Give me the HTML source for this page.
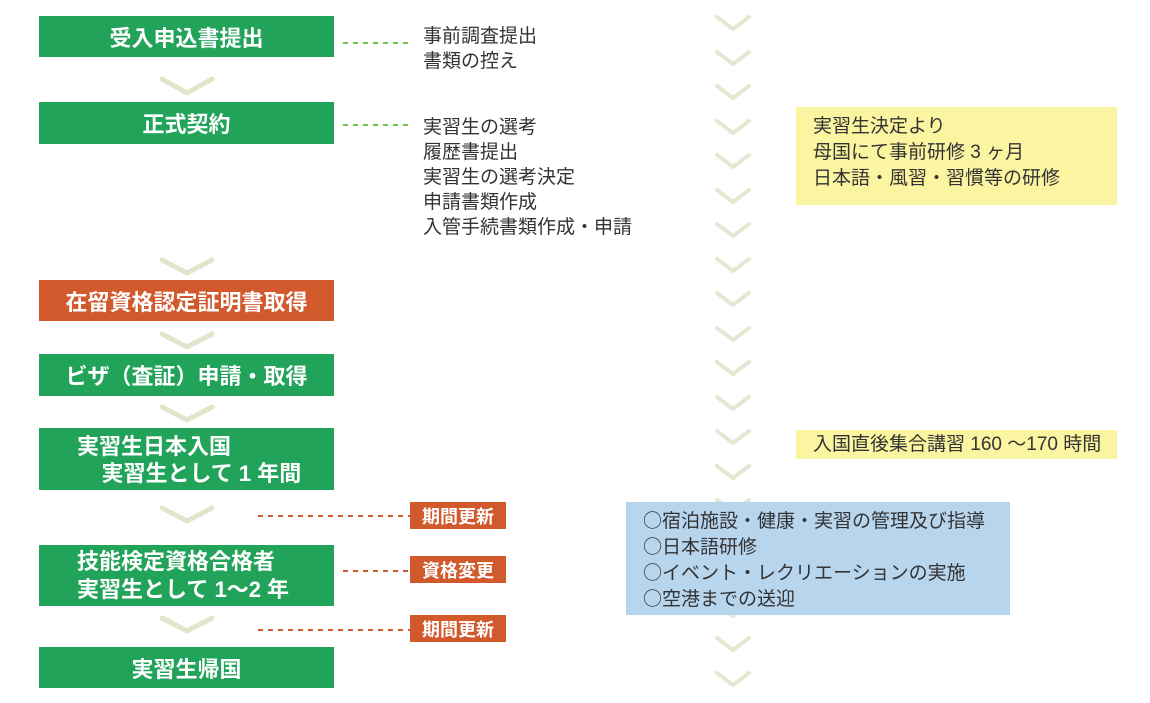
<!DOCTYPE html>
<html><head><meta charset="utf-8"><style>
body{margin:0;width:1150px;height:703px;background:#fff;position:relative;overflow:hidden;font-family:"Liberation Sans","Noto Sans CJK JP",sans-serif}
.b{position:absolute;left:39px;width:295px;background:#22a35a;color:#fff;font-weight:bold;font-size:22px;box-sizing:border-box;white-space:nowrap}
.c{display:flex;align-items:center;justify-content:center}
.o{background:#d2592c}
.s{position:absolute;left:410px;width:96px;height:27px;background:#d2592c;color:#fff;font-weight:bold;font-size:18px;display:flex;align-items:center;justify-content:center}
.t{position:absolute;color:#333;font-size:19px;line-height:25px;white-space:nowrap}
.y{position:absolute;background:#fbf4a0;color:#333;font-size:19px;white-space:nowrap}
.k{font-family:"Noto Sans CJK JP",sans-serif;line-height:0}
svg{position:absolute;left:0;top:0}
</style></head><body>
<svg width="1150" height="703">
<g fill="none" stroke="#dfe6cc" stroke-width="5" stroke-linecap="round" stroke-linejoin="round">
<polyline points="162,79 187,93 212,79"/>
<polyline points="162,260 187,273 212,260"/>
<polyline points="162,334 187,347 212,334"/>
<polyline points="162,407 187,420 212,407"/>
<polyline points="162,508 187,521 212,508"/>
<polyline points="162,618 187,631 212,618"/>
</g>
<g fill="none" stroke="#e2e8d2" stroke-width="4" stroke-linecap="round" stroke-linejoin="round">
<polyline points="717,17 733,29 749,17"/><polyline points="717,52 733,64 749,52"/><polyline points="717,86 733,98 749,86"/><polyline points="717,121 733,133 749,121"/><polyline points="717,155 733,167 749,155"/><polyline points="717,190 733,202 749,190"/><polyline points="717,224 733,236 749,224"/><polyline points="717,259 733,271 749,259"/><polyline points="717,293 733,305 749,293"/><polyline points="717,328 733,340 749,328"/><polyline points="717,362 733,374 749,362"/><polyline points="717,397 733,409 749,397"/><polyline points="717,431 733,443 749,431"/><polyline points="717,466 733,478 749,466"/><polyline points="717,500 733,512 749,500"/><polyline points="717,604 733,616 749,604"/><polyline points="717,638 733,650 749,638"/><polyline points="717,673 733,685 749,673"/>
</g>
<g stroke="#6cc24a" stroke-width="2" stroke-dasharray="5,5"><line x1="343" y1="43" x2="410" y2="43"/><line x1="343" y1="125" x2="410" y2="125"/></g>
<g stroke="#d2592c" stroke-width="2" stroke-dasharray="5,5"><line x1="258" y1="516" x2="410" y2="516"/><line x1="343" y1="571" x2="410" y2="571"/><line x1="258" y1="630" x2="410" y2="630"/></g>
</svg>
<div class="b c" style="top:16px;height:41px">受入申込書提出</div>
<div class="b c" style="top:102px;height:42px">正式契約</div>
<div class="b c o" style="top:280px;height:41px">在留資格認定証明書取得</div>
<div class="b c" style="top:354px;height:42px">ビザ（査証）申請・取得</div>
<div class="b" style="top:428px;height:62px;padding:5px 0 0 38px;line-height:27px">実習生日本入国<br>&nbsp;&nbsp;&nbsp;&nbsp;実習生として 1 年間</div>
<div class="b" style="top:545px;height:61px;padding:3px 0 0 38px;line-height:28px">技能検定資格合格者<br>実習生として 1～2 年</div>
<div class="b c" style="top:647px;height:41px">実習生帰国</div>
<div class="s" style="top:502px">期間更新</div>
<div class="s" style="top:556px">資格変更</div>
<div class="s" style="top:615px">期間更新</div>
<div class="t" style="left:423px;top:24px">事前調査提出<br>書類の控え</div>
<div class="t" style="left:423px;top:115px">実習生の選考<br>履歴書提出<br>実習生の選考決定<br>申請書類作成<br>入管手続書類作成・申請</div>
<div class="y" style="left:796px;top:107px;width:321px;height:98px;padding:7px 0 0 17px;box-sizing:border-box;line-height:26px">実習生決定より<br>母国にて事前研修 3 ヶ月<br>日本語・風習・習慣等の研修</div>
<div class="y" style="left:796px;top:430px;width:321px;height:29px;padding-left:17px;box-sizing:border-box;line-height:29px">入国直後集合講習 160 ～170 時間</div>
<div class="y" style="left:626px;top:502px;width:384px;height:113px;background:#b8d5ee;padding:7px 0 0 17px;box-sizing:border-box;line-height:26px"><span class="k">○</span>宿泊施設・健康・実習の管理及び指導<br><span class="k">○</span>日本語研修<br><span class="k">○</span>イベント・レクリエーションの実施<br><span class="k">○</span>空港までの送迎</div>
</body></html>
